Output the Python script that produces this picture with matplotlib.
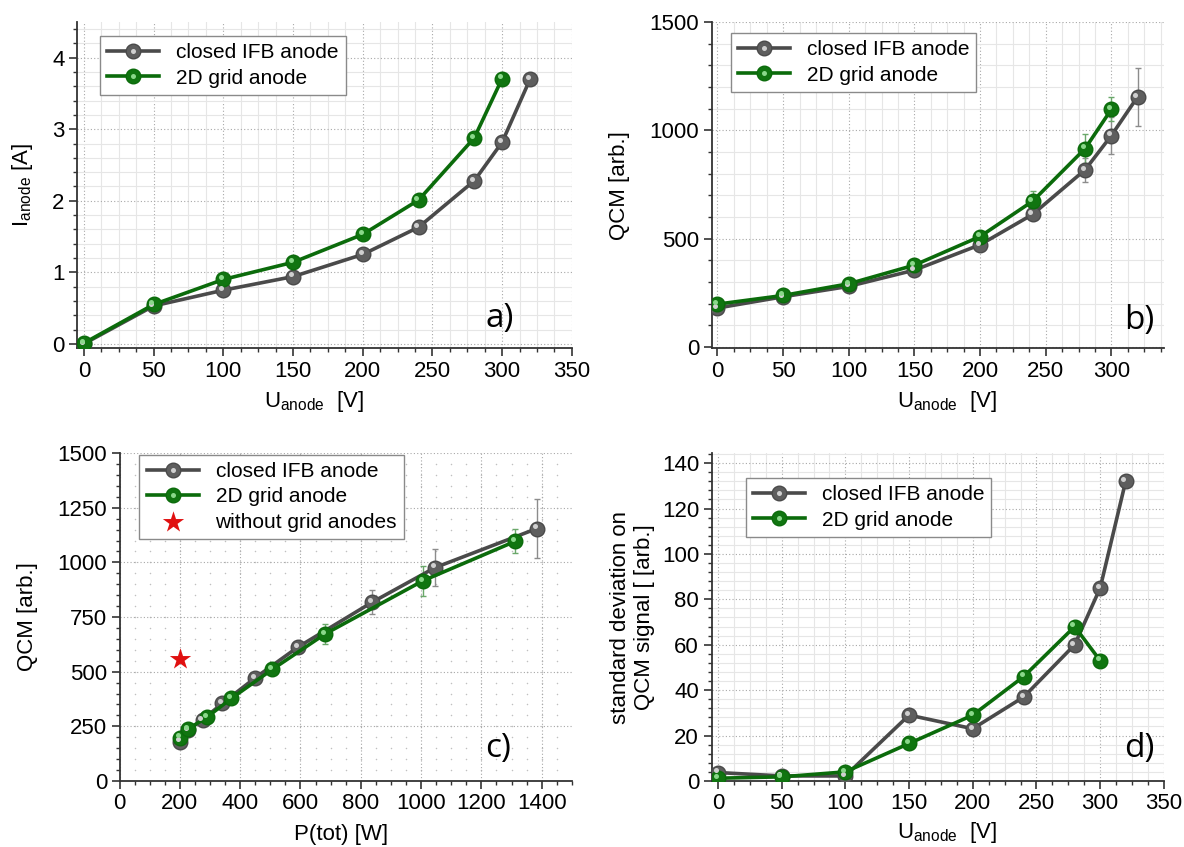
import numpy as np
import matplotlib
matplotlib.use('Agg')
import matplotlib.pyplot as plt
from matplotlib.ticker import MultipleLocator
from matplotlib.transforms import ScaledTranslation

plt.rcParams['font.family'] = ['Liberation Sans', 'DejaVu Sans']
plt.rcParams['mathtext.fontset'] = 'custom'
plt.rcParams['mathtext.rm'] = 'Liberation Sans'

# a) anode current vs anode voltage
u_closed = [0, 50, 100, 150, 200, 240, 280, 300, 320]
u_grid = [0, 50, 100, 150, 200, 240, 280, 300]
i_closed = [0.0, 0.53, 0.75, 0.94, 1.25, 1.63, 2.28, 2.82, 3.70]
i_grid = [0.01, 0.55, 0.90, 1.14, 1.53, 2.01, 2.88, 3.71]

# b) QCM vs anode voltage (with error bars)
qcm_closed = [180, 232, 280, 355, 472, 612, 818, 976, 1155]
qcm_grid = [198, 238, 292, 378, 510, 673, 916, 1097]
err_closed = [5, 5, 8, 10, 15, 25, 55, 85, 135]
err_grid = [5, 5, 8, 10, 15, 45, 68, 55]

# c) QCM vs total power
p_closed = [200, 226, 275, 341, 450, 591, 838, 1046, 1384]
p_grid = [200, 228, 290, 371, 506, 682, 1006, 1313]
p_star = [200]
qcm_star = [556]

# d) standard deviation of the QCM signal
sd_closed = [3.7, 2.2, 2.2, 29, 23, 37, 60, 85, 132]
sd_grid = [1.2, 1.8, 4.0, 16.5, 29, 46, 68, 53]

GRAY = '#4a4a4a'
GREEN = '#0b6b0b'

fig = plt.figure(figsize=(11.84, 8.47), dpi=100)
# small shift up-left for the "shiny" spot on the spheres
SHINE = ScaledTranslation(-1.6 / 72, 1.6 / 72, fig.dpi_scale_trans)


def series(ax, x, y, color, face, hi, err=None, ecolor=None):
    if err is not None:
        ax.errorbar(x, y, yerr=err, fmt='none', ecolor=ecolor, elinewidth=1,
                    capsize=2.5, capthick=1, zorder=2)
    main, = ax.plot(x, y, '-', color=color, lw=2.6, marker='o', ms=10.5,
                    mfc=face, mec=color, mew=1.0, zorder=3)
    shine, = ax.plot(x, y, 'o', ms=3.6, color=hi, mec='none', zorder=4,
                     ls='none', transform=ax.transData + SHINE)
    return (main, shine)


def style(ax, xmaj, xmin, ymaj, ymin, dotted=False):
    for s in ['top', 'right']:
        ax.spines[s].set_visible(False)
    for s in ['left', 'bottom']:
        ax.spines[s].set_color('#333333')
        ax.spines[s].set_linewidth(1.3)
    ax.xaxis.set_major_locator(MultipleLocator(xmaj))
    ax.xaxis.set_minor_locator(MultipleLocator(xmin))
    ax.yaxis.set_major_locator(MultipleLocator(ymaj))
    ax.yaxis.set_minor_locator(MultipleLocator(ymin))
    ax.tick_params(which='major', direction='out', length=6, width=1.2,
                   color='#333333', labelsize=16, pad=3)
    ax.tick_params(which='minor', direction='out', length=3, width=1.0,
                   color='#333333')
    ax.set_axisbelow(True)
    ax.grid(which='major', color='#a8a8a8', lw=0.8, ls=(0, (1, 2)))
    if dotted:
        # faint dots at the minor grid intersections
        x0, x1 = ax.get_xlim()
        y0, y1 = ax.get_ylim()
        xs = [v for v in ax.xaxis.get_minor_locator().tick_values(x0, x1) if x0 < v < x1]
        ys = [v for v in ax.yaxis.get_minor_locator().tick_values(y0, y1) if y0 < v < y1]
        gx, gy = np.meshgrid(xs, ys)
        ax.scatter(gx.ravel(), gy.ravel(), s=1.2, color='#c0c0c0', zorder=0,
                   linewidths=0)
    else:
        ax.grid(which='minor', color='#e6e6e6', lw=0.8, ls='-')


def legend(ax, handles, labels, anchor):
    leg = ax.legend(handles, labels, loc='upper left', bbox_to_anchor=anchor,
                    borderaxespad=0, fancybox=False, framealpha=1,
                    edgecolor='#8a8a8a', fontsize=15, handlelength=2.5,
                    handletextpad=0.8, borderpad=0.35, labelspacing=0.3)
    leg.get_frame().set_linewidth(1.0)


def tag(ax, text, x, y):
    ax.text(x, y, text, transform=ax.transAxes, ha='center', va='center',
            fontsize=24, family=['Open Sans', 'DejaVu Sans'])


ax_a = fig.add_axes([0.065, 0.589, 0.418, 0.385])
ax_b = fig.add_axes([0.601, 0.589, 0.382, 0.385])
ax_c = fig.add_axes([0.101, 0.078, 0.382, 0.387])
ax_d = fig.add_axes([0.601, 0.078, 0.382, 0.387])

labels = ['closed IFB anode', '2D grid anode']

# a)
h1 = series(ax_a, u_closed, i_closed, GRAY, '#5e5e5e', '#d0d0d0')
h2 = series(ax_a, u_grid, i_grid, GREEN, '#107510', '#8ad88a')
ax_a.set_xlim(-5, 350)
ax_a.set_ylim(-0.06, 4.5)
style(ax_a, 50, 12.5, 1, 0.2)
ax_a.set_xlabel(r'$\mathregular{U_{anode}}$  [V]', fontsize=16)
ax_a.set_ylabel(r'$\mathregular{I_{anode}}$ [A]', fontsize=16)
ax_a.xaxis.set_label_coords(0.48, -0.125)
ax_a.yaxis.set_label_coords(-0.085, 0.5)
legend(ax_a, [h1, h2], labels, (0.046, 0.957))
tag(ax_a, 'a)', 0.855, 0.092)

# b)
h1 = series(ax_b, u_closed, qcm_closed, GRAY, '#5e5e5e', '#d0d0d0',
            err_closed, '#8c8c8c')
h2 = series(ax_b, u_grid, qcm_grid, GREEN, '#107510', '#8ad88a',
            err_grid, '#6aa86a')
ax_b.set_xlim(-4.5, 340)
ax_b.set_ylim(-5, 1500)
style(ax_b, 50, 12.5, 500, 100)
ax_b.set_xlabel(r'$\mathregular{U_{anode}}$  [V]', fontsize=16)
ax_b.set_ylabel('QCM [arb.]', fontsize=16)
ax_b.xaxis.set_label_coords(0.52, -0.125)
ax_b.yaxis.set_label_coords(-0.181, 0.5)
legend(ax_b, [h1, h2], labels, (0.042, 0.966))
tag(ax_b, 'b)', 0.945, 0.086)

# c)
h1 = series(ax_c, p_closed, qcm_closed, GRAY, '#5e5e5e', '#d0d0d0',
            err_closed, '#8c8c8c')
h2 = series(ax_c, p_grid, qcm_grid, GREEN, '#107510', '#8ad88a',
            err_grid, '#6aa86a')
h3 = ax_c.scatter(p_star, qcm_star, marker='*', s=260, color='#e01010',
                  linewidths=0, zorder=5)
ax_c.set_xlim(0, 1500)
ax_c.set_ylim(0, 1500)
style(ax_c, 200, 50, 250, 50, dotted=True)
ax_c.set_xlabel('P(tot) [W]', fontsize=16)
ax_c.set_ylabel('QCM [arb.]', fontsize=16)
ax_c.xaxis.set_label_coords(0.49, -0.13)
ax_c.yaxis.set_label_coords(-0.181, 0.5)
legend(ax_c, [h1, h2, h3], labels + ['without grid anodes'], (0.044, 0.995))
tag(ax_c, 'c)', 0.836, 0.10)

# d)
h1 = series(ax_d, u_closed, sd_closed, GRAY, '#5e5e5e', '#d0d0d0')
h2 = series(ax_d, u_grid, sd_grid, GREEN, '#107510', '#8ad88a')
ax_d.set_xlim(-5, 350)
ax_d.set_ylim(0, 144.4)
style(ax_d, 50, 12.5, 20, 4)
ax_d.set_xlabel(r'$\mathregular{U_{anode}}$  [V]', fontsize=16)
ax_d.set_ylabel('standard deviation on\nQCM signal [ [arb.]', fontsize=16)
ax_d.xaxis.set_label_coords(0.52, -0.12)
ax_d.yaxis.set_label_coords(-0.125, 0.5)
legend(ax_d, [h1, h2], labels, (0.075, 0.924))
tag(ax_d, 'd)', 0.945, 0.10)

fig.savefig('out.png', dpi=100)
